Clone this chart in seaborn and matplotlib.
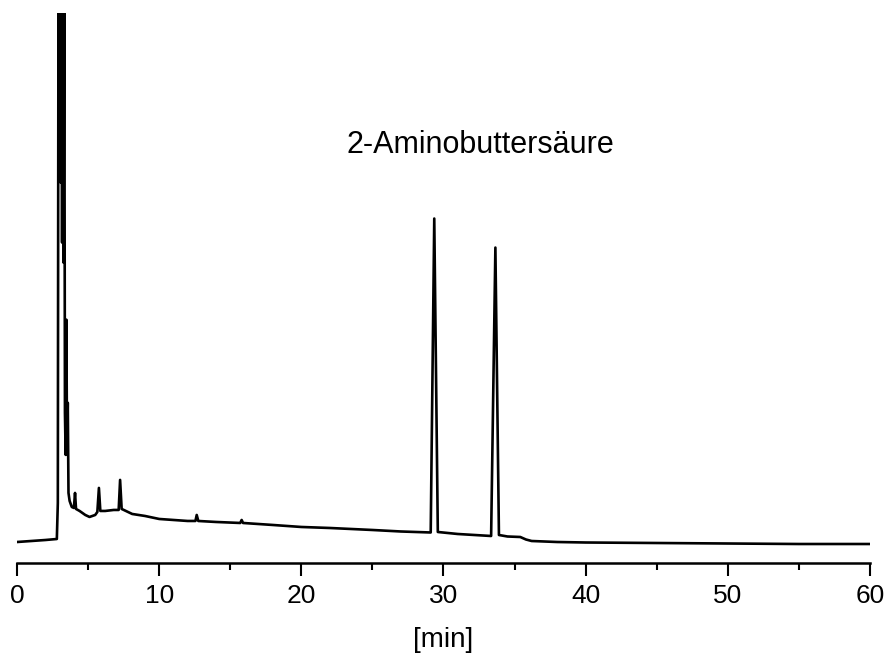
import pandas as pd
import matplotlib.pyplot as plt
from matplotlib.ticker import MultipleLocator
import seaborn as sns

# retention time [min] and detector signal (arbitrary units)
time_min = [
    0.0, 1.0, 2.0, 2.8, 2.87, 2.92, 2.97, 3.02, 3.07, 3.12, 3.17, 3.22, 3.27,
    3.32, 3.37, 3.42, 3.47, 3.52, 3.57, 3.62, 3.7, 3.85, 4.0, 4.08, 4.15, 4.4,
    4.8, 5.1, 5.5, 5.65, 5.76, 5.86, 6.2, 6.8, 7.15, 7.25, 7.36, 8.1, 9.0,
    10.0, 11.0, 12.0, 12.55, 12.64, 12.75, 14.0, 15.7, 15.8, 15.9, 18.0, 20.0,
    22.0, 25.0, 27.0, 29.1, 29.35, 29.6, 31.0, 33.35, 33.65, 33.9, 34.5, 35.4,
    35.8, 36.2, 38.0, 40.0, 45.0, 50.0, 55.0, 60.0,
]
signal = [
    21, 22, 23, 24, 60, 650, 420, 750, 380, 700, 320, 640, 300,
    600, 150, 108, 243, 108, 160, 70, 62, 56, 55, 70, 54, 52,
    48, 46, 48, 51, 75, 52, 52, 53, 53, 83, 54, 49, 47,
    44, 43, 42, 42, 48, 42, 41, 40, 43, 40, 38, 36,
    35, 33, 31.5, 30.5, 344, 31, 29, 27, 315, 28, 26.5, 26,
    23.5, 22, 21, 20.5, 20, 19.5, 19, 19,
]
peak_label = "2-Aminobuttersäure"

df = pd.DataFrame({"time": time_min, "signal": signal})

sns.set_theme(style="white")
plt.rcParams["font.family"] = ["Liberation Sans", "DejaVu Sans"]

fig = plt.figure(figsize=(8.87, 6.62), dpi=100)
ax = fig.add_axes([0.0192, 0.1495, 0.9616, 0.8305])

sns.lineplot(data=df, x="time", y="signal", estimator=None, sort=False,
             color="black", linewidth=1.9, ax=ax)

ax.set_xlim(0, 60)
ax.set_ylim(0, 549)
ax.xaxis.set_major_locator(MultipleLocator(10))
ax.xaxis.set_minor_locator(MultipleLocator(5))
ax.tick_params(axis="x", which="major", direction="out", length=9, width=1.5,
               color="black", labelcolor="black", labelsize=19, pad=6,
               bottom=True)
ax.tick_params(axis="x", which="minor", direction="out", length=5, width=1.5,
               color="black", bottom=True)
ax.set_yticks([])
ax.set_ylabel("")
ax.set_xlabel("[min]", fontsize=20, color="black", labelpad=14)

for side in ["top", "right", "left"]:
    ax.spines[side].set_visible(False)
ax.spines["bottom"].set_color("black")
ax.spines["bottom"].set_linewidth(1.8)

fig.text(0.5415, 0.781, peak_label, ha="center", va="center",
         fontsize=22, color="black")

fig.savefig("out.png", dpi=100)
